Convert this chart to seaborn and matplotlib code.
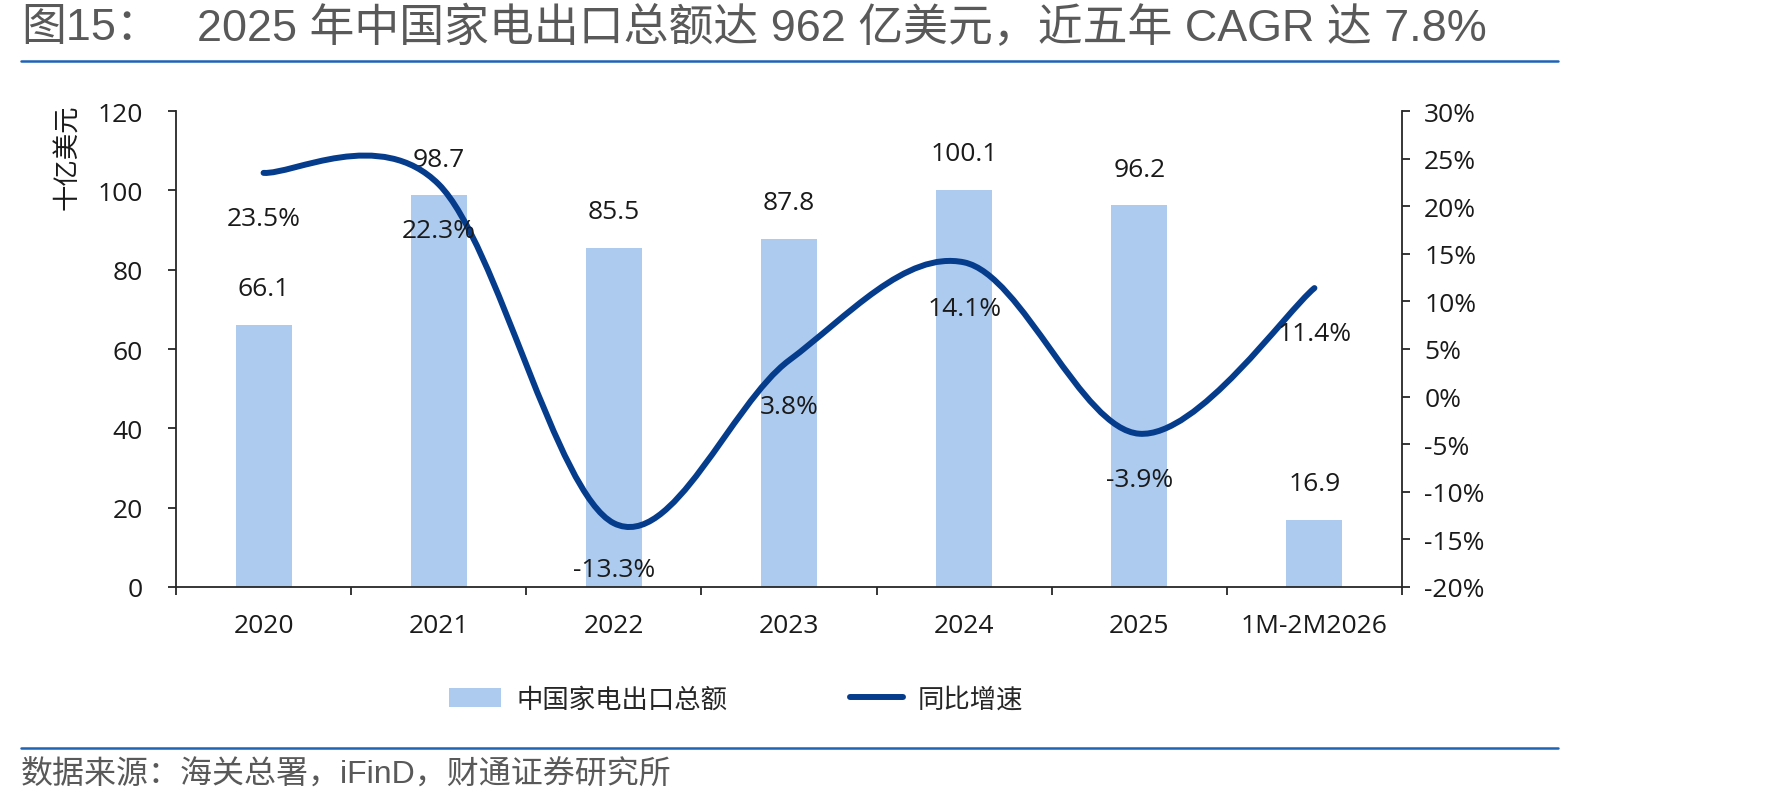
import numpy as np
import pandas as pd
import matplotlib
matplotlib.use('Agg')
import matplotlib.pyplot as plt
import seaborn as sns
from matplotlib.path import Path
from matplotlib.patches import PathPatch, Patch
from matplotlib.lines import Line2D

# data
categories = ['2020', '2021', '2022', '2023', '2024', '2025', '1M-2M2026']
export_total = [66.1, 98.7, 85.5, 87.8, 100.1, 96.2, 16.9]   # 十亿美元
yoy_growth = [23.5, 22.3, -13.3, 3.8, 14.1, -3.9, 11.4]       # %
left_ticks = [0, 20, 40, 60, 80, 100, 120]
right_ticks = [-20, -15, -10, -5, 0, 5, 10, 15, 20, 25, 30]

bar_color = '#ADCBEF'
line_color = '#063C8C'
text_color = '#1A1A1A'
grey = '#595959'
rule_color = '#1F63B5'

sns.set_theme(style='white')
plt.rcParams['font.family'] = ['Open Sans', 'Noto Sans CJK SC', 'DejaVu Sans']
plt.rcParams['axes.unicode_minus'] = False
title_font = ['Liberation Sans', 'Noto Sans CJK SC']
cjk_font = ['Noto Sans CJK SC', 'DejaVu Sans']
num_size = 19

W, H = 1771, 804
fig = plt.figure(figsize=(W / 100, H / 100), dpi=100)
ax = fig.add_axes([176 / W, 1 - 588 / H, (1402 - 176) / W, (588 - 112) / H])

df = pd.DataFrame({'cat': categories, 'total': export_total, 'yoy': yoy_growth})

# bars
sns.barplot(data=df, x='cat', y='total', color=bar_color, saturation=1,
            width=0.32, edgecolor='none', ax=ax)
ax.set_xlim(-0.5, len(categories) - 0.5)
ax.set_ylim(0, 120)
ax.set_yticks(left_ticks)
ax.set_xlabel('')
ax.set_ylabel('')
for i, v in enumerate(df['total']):
    ax.annotate(f'{v:.1f}', (i, v), xytext=(0, 26), textcoords='offset points',
                ha='center', va='center', fontsize=num_size, color=text_color)

# growth line on the right axis, smoothed like Excel (cubic Bezier)
ax2 = ax.twinx()
xs = np.arange(len(df), dtype=float)
ys = df['yoy'].to_numpy(dtype=float)
xp = np.concatenate([[xs[0]], xs, [xs[-1]]])
yp = np.concatenate([[ys[0]], ys, [ys[-1]]])
verts = [(xs[0], ys[0])]
codes = [Path.MOVETO]
for i in range(len(xs) - 1):
    c1 = (xs[i] + (xp[i + 2] - xp[i]) / 6, ys[i] + (yp[i + 2] - yp[i]) / 6)
    c2 = (xs[i + 1] - (xp[i + 3] - xp[i + 1]) / 6, ys[i + 1] - (yp[i + 3] - yp[i + 1]) / 6)
    verts += [c1, c2, (xs[i + 1], ys[i + 1])]
    codes += [Path.CURVE4] * 3
ax2.add_patch(PathPatch(Path(verts, codes), facecolor='none', edgecolor=line_color,
                        lw=4.3, capstyle='round', joinstyle='round'))
ax2.set_ylim(-20, 30)
ax2.set_yticks(right_ticks)
ax2.set_yticklabels([f'{t}%' for t in right_ticks])
ax2.set_xlim(-0.5, len(categories) - 0.5)
for i, g in enumerate(ys):
    ax2.annotate(f'{g:.1f}%', (i, g), xytext=(0, -33), textcoords='offset points',
                 ha='center', va='center', fontsize=num_size, color=text_color)

# axes styling
for a in (ax, ax2):
    for s in a.spines.values():
        s.set_visible(False)
    a.grid(False)
ax.spines['left'].set_visible(True)
ax.spines['bottom'].set_visible(True)
ax2.spines['right'].set_visible(True)
for s in (ax.spines['left'], ax.spines['bottom'], ax2.spines['right']):
    s.set_color('#262626')
    s.set_linewidth(1.3)

ax.set_xticks(range(len(categories)))
ax.set_xticklabels(categories)
ax.set_xticks(np.arange(-0.5, len(categories), 1.0), minor=True)
ax.tick_params(axis='x', which='major', length=0, pad=19, labelsize=num_size, labelcolor=text_color)
ax.tick_params(axis='x', which='minor', length=6, width=1.3, color='#262626', direction='out', bottom=True)
ax.tick_params(axis='y', which='major', length=6, width=1.3, color='#262626', direction='out',
               left=True, pad=18, labelsize=num_size, labelcolor=text_color)
ax2.tick_params(axis='y', which='major', length=6, width=1.3, color='#262626', direction='out',
                right=True, pad=10, labelsize=num_size, labelcolor=text_color)

fig.text(68 / W, 1 - 104 / H, '十亿美元', rotation=90, ha='center', va='top',
         fontsize=19, color=text_color, family=cjk_font)

# legend
handles = [Patch(facecolor=bar_color, edgecolor='none'),
           Line2D([0], [0], color=line_color, lw=4.3, solid_capstyle='round')]
fig.legend(handles, ['中国家电出口总额', '同比增速'], loc='center',
           bbox_to_anchor=(736 / W, 1 - 700 / H), ncol=2, frameon=False,
           prop={'family': cjk_font, 'size': 19},
           handlelength=2.0, handleheight=0.7, handletextpad=0.56, columnspacing=4.66)

# title, rules, source
fig.text(21 / W, 1 - 28 / H, '图15：', fontsize=32.3, color=grey, va='center', family=title_font)
fig.text(197 / W, 1 - 28 / H, '2025 年中国家电出口总额达 962 亿美元，近五年 CAGR 达 7.8%',
         fontsize=32.3, color=grey, va='center', family=title_font)
fig.add_artist(Line2D([21 / W, 1558 / W], [1 - 62 / H] * 2, transform=fig.transFigure,
                      color=rule_color, lw=1.8))
fig.add_artist(Line2D([21 / W, 1558 / W], [1 - 749 / H] * 2, transform=fig.transFigure,
                      color=rule_color, lw=1.8))
fig.text(21 / W, 1 - 775 / H, '数据来源：海关总署，iFinD，财通证券研究所', fontsize=23,
         color=grey, va='center', family=title_font)

fig.savefig('out.png', dpi=100)
